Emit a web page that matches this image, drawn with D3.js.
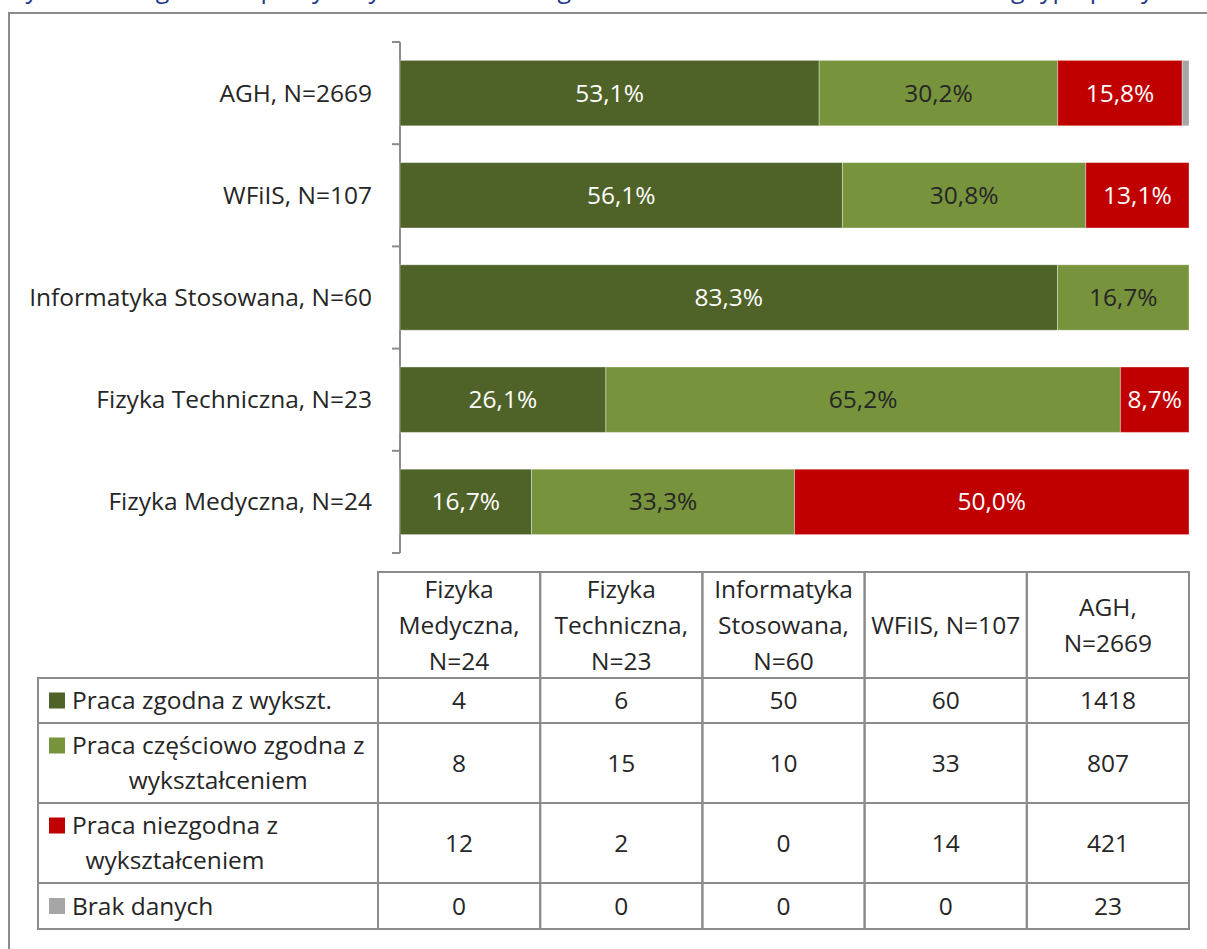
<!DOCTYPE html>
<html lang="pl">
<head>
<meta charset="UTF-8">
<title>Zgodność pracy z wykształceniem</title>
<style>
  body { margin: 0; background: #fff; }
  svg { display: block; font-family: "Open Sans", "Noto Sans", sans-serif; }
  .lbl { font-size: 24.5px; fill: #262626; }
  .grid { stroke: #8c8c8c; stroke-width: 2; fill: none; }
</style>
</head>
<body>
<script src="https://cdnjs.cloudflare.com/ajax/libs/d3/7.8.5/d3.min.js"></script>
<script>
// categories, top to bottom in the chart
var categories = ["AGH, N=2669", "WFiIS, N=107", "Informatyka Stosowana, N=60", "Fizyka Techniczna, N=23", "Fizyka Medyczna, N=24"];
var seriesKeys = ["zgodna", "czesciowo", "niezgodna", "brak"];
var seriesColors = ["#4f6228", "#77933c", "#c00000", "#a6a6a6"];
var labelColors = ["#ffffff", "#262626", "#ffffff", "#262626"];

// counts per category (same order as categories)
var zgodna    = [1418, 60, 50, 6, 4];
var czesciowo = [807, 33, 10, 15, 8];
var niezgodna = [421, 14, 0, 2, 12];
var brak      = [23, 0, 0, 0, 0];

// table: columns (left to right) and their header lines
var tableColumns = ["Fizyka Medyczna, N=24", "Fizyka Techniczna, N=23", "Informatyka Stosowana, N=60", "WFiIS, N=107", "AGH, N=2669"];
var headerLines = [["Fizyka", "Medyczna,", "N=24"], ["Fizyka", "Techniczna,", "N=23"], ["Informatyka", "Stosowana,", "N=60"], ["WFiIS, N=107"], ["AGH,", "N=2669"]];
var legendLines = [["Praca zgodna z wykszt."], ["Praca częściowo zgodna z", "wykształceniem"], ["Praca niezgodna z", "wykształceniem"], ["Brak danych"]];

var counts = [zgodna, czesciowo, niezgodna, brak];

var W = 1207, H = 949;
var svg = d3.select("body").append("svg").attr("width", W).attr("height", H);

// title (only its lowest part shows at the top edge, as in the source picture)
svg.append("text")
    .attr("x", 10).attr("y", -2)
    .style("font-size", "25px").style("fill", "#1f3a8a")
    .text("Rysunek 9. Zgodność pracy z wykształceniem wg kierunku studiów – absolwenci według typu pracy");

// outer frame
svg.append("rect").attr("class", "grid")
    .attr("x", 9).attr("y", 13).attr("width", 1215).attr("height", 960);

// data rows, percent computed from counts
var rows = categories.map(function(c, i) {
    var tot = d3.sum(counts, function(s) { return s[i]; });
    var r = {cat: c};
    seriesKeys.forEach(function(k, j) { r[k] = counts[j][i] / tot * 100; });
    return r;
});

var x = d3.scaleLinear().domain([0, 100]).range([400, 1189]);
var y = d3.scaleBand().domain(categories).range([42, 553]).paddingInner(0.36).paddingOuter(0.18);

var stacked = d3.stack().keys(seriesKeys)(rows);

// y axis with ticks between categories
var step = y.step();
var axis = svg.append("g");
axis.append("line").attr("class", "grid")
    .attr("x1", 400).attr("x2", 400).attr("y1", 42).attr("y2", 553);
axis.selectAll(".tk").data(d3.range(categories.length + 1)).enter().append("line")
    .attr("class", "grid")
    .attr("x1", 392).attr("x2", 400)
    .attr("y1", function(i) { return 42 + i * step; })
    .attr("y2", function(i) { return 42 + i * step; });
axis.selectAll(".cat").data(categories).enter().append("text")
    .attr("class", "lbl")
    .attr("x", 372)
    .attr("y", function(d) { return y(d) + y.bandwidth() / 2; })
    .attr("dy", "0.35em")
    .attr("text-anchor", "end")
    .text(function(d) { return d; });

// bars
var layers = svg.selectAll(".layer").data(stacked).enter().append("g")
    .attr("fill", function(d, i) { return seriesColors[i]; });

layers.selectAll("rect").data(function(d) { return d; }).enter().append("rect")
    .attr("x", function(d) { return x(d[0]); })
    .attr("y", function(d) { return y(d.data.cat); })
    .attr("width", function(d) { return x(d[1]) - x(d[0]); })
    .attr("height", y.bandwidth())
    .attr("stroke", "#ffffff").attr("stroke-opacity", 0.35).attr("stroke-width", 1);

layers.each(function(layer, li) {
    if (li === 3) return;
    d3.select(this).selectAll("text").data(layer.filter(function(d) { return d[1] - d[0] > 0.5; }))
        .enter().append("text")
        .attr("class", "lbl")
        .style("fill", labelColors[li])
        .attr("x", function(d) { return (x(d[0]) + x(d[1])) / 2; })
        .attr("y", function(d) { return y(d.data.cat) + y.bandwidth() / 2; })
        .attr("dy", "0.35em")
        .attr("text-anchor", "middle")
        .text(function(d) { return (d[1] - d[0]).toFixed(1).replace(".", ",") + "%"; });
});

// data table
var colX = d3.scaleBand().domain(tableColumns).range([378, 1189]);
var rowEdges = [678, 723, 803, 883, 929];
var headTop = 572, lineH = 36;
var tbl = svg.append("g");

// header cells
tableColumns.forEach(function(c, i) {
    var x0 = colX(c), cw = colX.bandwidth();
    tbl.append("rect").attr("class", "grid")
        .attr("x", x0).attr("y", headTop).attr("width", cw).attr("height", rowEdges[0] - headTop);
    var lines = headerLines[i];
    var cy = (headTop + rowEdges[0]) / 2 - (lines.length - 1) * lineH / 2;
    lines.forEach(function(t, k) {
        tbl.append("text").attr("class", "lbl")
            .attr("x", x0 + cw / 2).attr("y", cy + k * lineH).attr("dy", "0.35em")
            .attr("text-anchor", "middle").text(t);
    });
});

// body rows: legend cell + values; table columns are chart categories reversed
seriesKeys.forEach(function(k, j) {
    var y0 = rowEdges[j], y1 = rowEdges[j + 1];
    tbl.append("rect").attr("class", "grid")
        .attr("x", 38).attr("y", y0).attr("width", 378 - 38).attr("height", y1 - y0);
    var lines = legendLines[j];
    var cy = (y0 + y1) / 2 - (lines.length - 1) * 35 / 2;
    tbl.append("rect").attr("x", 49).attr("y", cy - 8).attr("width", 16).attr("height", 16)
        .attr("fill", seriesColors[j]);
    var first = tbl.append("text").attr("class", "lbl")
        .attr("x", 72).attr("y", cy).attr("dy", "0.35em").text(lines[0]);
    var fw = first.node().getComputedTextLength();
    lines.slice(1).forEach(function(t, n) {
        tbl.append("text").attr("class", "lbl")
            .attr("x", 72 + fw / 2).attr("y", cy + (n + 1) * 35).attr("dy", "0.35em")
            .attr("text-anchor", "middle").text(t);
    });
    tableColumns.forEach(function(c) {
        var ci = categories.indexOf(c);
        tbl.append("rect").attr("class", "grid")
            .attr("x", colX(c)).attr("y", y0).attr("width", colX.bandwidth()).attr("height", y1 - y0);
        tbl.append("text").attr("class", "lbl")
            .attr("x", colX(c) + colX.bandwidth() / 2).attr("y", (y0 + y1) / 2).attr("dy", "0.35em")
            .attr("text-anchor", "middle").text(counts[j][ci]);
    });
});
</script>
</body>
</html>
